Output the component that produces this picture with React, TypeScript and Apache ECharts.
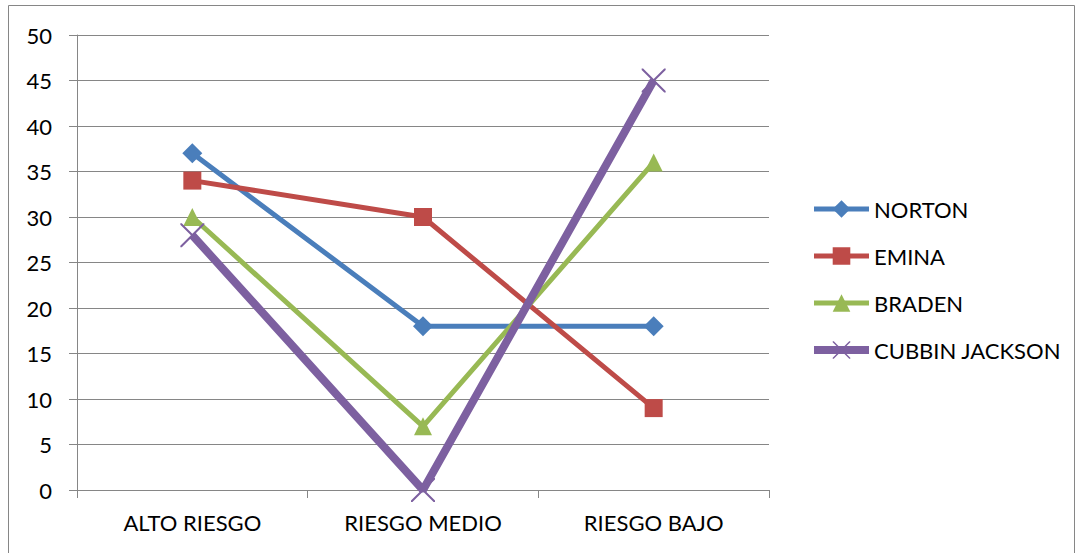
import React, { useEffect, useRef } from "react";
import * as echarts from "echarts";

const categories = ["ALTO RIESGO", "RIESGO MEDIO", "RIESGO BAJO"];
const norton = [37, 18, 18];
const emina = [34, 30, 9];
const braden = [30, 7, 36];
const cubbin = [28, 0, 45];
const seriesNames = ["NORTON", "EMINA", "BRADEN", "CUBBIN JACKSON"];

const crossPath =
  "path://M0,0 L1.2,0 L10,8.8 L18.8,0 L20,0 L20,1.2 L11.2,10 L20,18.8 L20,20 L18.8,20 L10,11.2 L1.2,20 L0,20 L0,18.8 L8.8,10 L0,1.2 Z";

export default function App() {
  const ref = useRef<HTMLDivElement>(null);
  useEffect(() => {
    if (!ref.current) return;
    const chart = echarts.init(ref.current, undefined, { renderer: "svg" });
    const font = "Lato, 'Open Sans', sans-serif";
    const mk = (name: string, data: number[], color: string, symbol: string, size: number, width: number) => ({
      name,
      type: "line",
      data,
      symbol,
      symbolSize: size,
      showAllSymbol: true,
      lineStyle: { color, width },
      itemStyle: { color, borderWidth: 0 },
      emphasis: { disabled: true },
    });
    const widths = [5, 5, 5, 8];
    chart.setOption({
      animation: false,
      textStyle: { fontFamily: font },
      graphic: [
        {
          type: "rect",
          shape: { x: 8.5, y: 5.5, width: 1066, height: 560 },
          style: { fill: "none", stroke: "#868686", lineWidth: 1 },
          silent: true,
        },
      ],
      grid: { left: 77, right: 308, top: 35, bottom: 63, containLabel: false },
      legend: {
        orient: "vertical",
        left: 805,
        top: 193,
        itemWidth: 55,
        itemHeight: 22,
        itemGap: 25,
        data: seriesNames.map((n, i) => ({ name: n, lineStyle: { width: widths[i] } })),
        textStyle: { color: "#000", fontSize: 22, fontFamily: font },
      },
      xAxis: {
        type: "category",
        data: categories,
        boundaryGap: true,
        axisLine: { lineStyle: { color: "#868686", width: 1 } },
        axisTick: { show: true, length: 8, lineStyle: { color: "#868686" } },
        axisLabel: { color: "#000", fontSize: 22, margin: 21, fontFamily: font },
        splitLine: { show: false },
      },
      yAxis: {
        type: "value",
        min: 0,
        max: 50,
        interval: 5,
        axisLine: { show: true, lineStyle: { color: "#868686", width: 1 } },
        axisTick: { show: true, length: 8, lineStyle: { color: "#868686" } },
        axisLabel: { color: "#000", fontSize: 22, margin: 25, fontFamily: font },
        splitLine: { show: true, lineStyle: { color: "#868686", width: 1 } },
      },
      series: [
        mk("NORTON", norton, "#4A7EBB", "diamond", 20, widths[0]),
        mk("EMINA", emina, "#BE4B48", "rect", 18, widths[1]),
        mk("BRADEN", braden, "#98B954", "triangle", 18, widths[2]),
        mk("CUBBIN JACKSON", cubbin, "#7D60A0", crossPath, 24, widths[3]),
      ],
    });
    return () => chart.dispose();
  }, []);
  return (
    <div
      ref={ref}
      style={{ position: "absolute", left: 0, top: 0, width: 1077, height: 553, background: "#fff" }}
    />
  );
}
